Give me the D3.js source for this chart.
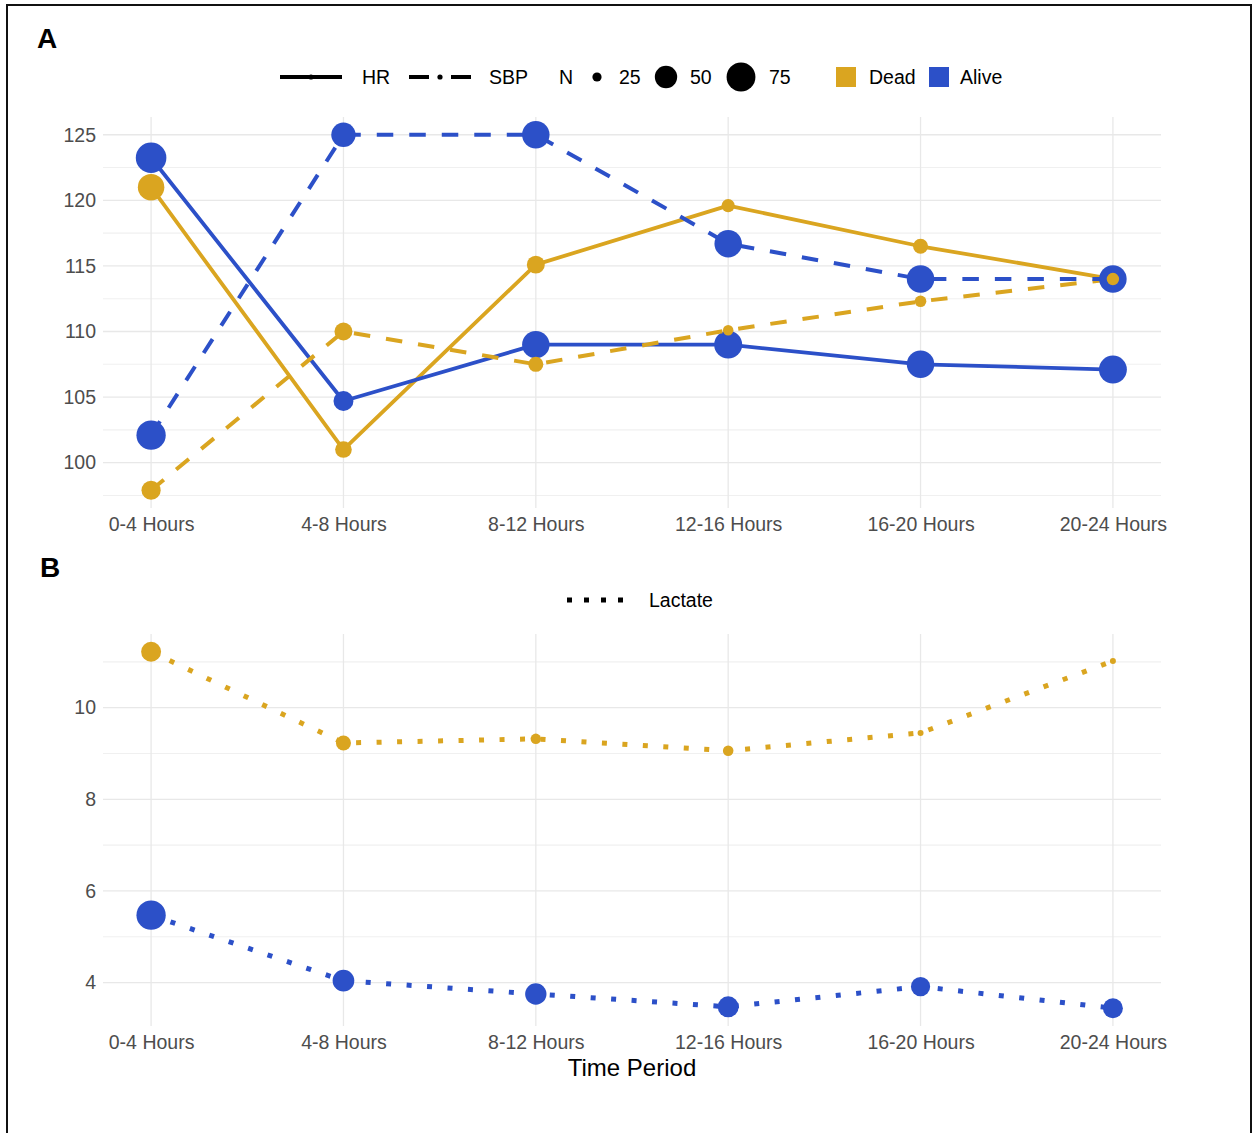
<!DOCTYPE html>
<html>
<head>
<meta charset="utf-8">
<script src="https://cdn.jsdelivr.net/npm/d3@7"></script>
<style>
  body { margin: 0; background: #fff; }
  svg { display: block; }
  text { font-family: "Liberation Sans", Arial, sans-serif; }
</style>
</head>
<body>
<svg id="chart" width="1255" height="1133"></svg>
<script>
// ---- data ----
const periods = ["0-4 Hours", "4-8 Hours", "8-12 Hours", "12-16 Hours", "16-20 Hours", "20-24 Hours"];
const groups = ["Dead", "Alive"];

// mean heart rate / systolic blood pressure per time window
const hrDead   = [121.0, 101.0, 115.1, 119.6, 116.5, 114.0];
const hrAlive  = [123.25, 104.7, 109.0, 109.0, 107.5, 107.1];
const sbpDead  = [97.9, 110.0, 107.5, 110.1, 112.3, 114.0];
const sbpAlive = [102.1, 125.0, 125.0, 116.7, 114.0, 114.0];

// mean lactate per time window
const lacDead  = [11.22, 9.23, 9.32, 9.06, 9.45, 11.02];
const lacAlive = [5.47, 4.04, 3.75, 3.47, 3.91, 3.44];

// number of patients behind each mean
const nHrDead   = [65, 35, 38, 29, 32, 28];
const nHrAlive  = [83, 43, 69, 71, 69, 71];
const nSbpDead  = [41, 38, 32, 26, 27, 28];
const nSbpAlive = [77, 57, 69, 69, 69, 69];
const nLacDead  = [43, 32, 26, 26, 24, 24];
const nLacAlive = [77, 48, 47, 46, 41, 43];

const sizeBreaks = [25, 50, 75];
const ticksA = [100, 105, 110, 115, 120, 125];
const ticksB = [4, 6, 8, 10];

// ---- styling ----
const cDead = "#DAA520", cAlive = "#2C50C8";
const color = d3.scaleOrdinal().domain(groups).range([cDead, cAlive]);
const nNorm = d3.scaleLinear().domain([24, 85]).range([0, 1]).clamp(true);
const rSqrt = d3.scaleSqrt().domain([0, 1]).range([3, 15.5]);
const radius = n => rSqrt(nNorm(n));

const svg = d3.select("#chart");

// outer frame
svg.append("path")
  .attr("d", "M7,1133V5H1251V1133")
  .attr("fill", "none").attr("stroke", "#111").attr("stroke-width", 2);

const x = d3.scalePoint().domain(periods).range([103, 1161]).padding(0.25);

function yScale(values, top, bottom) {
  const [lo, hi] = d3.extent(values);
  const pad = (hi - lo) * 0.05;
  return d3.scaleLinear().domain([lo - pad, hi + pad]).range([bottom, top]);
}

function drawFrame(g, y, ticks, top, bottom) {
  const [d0, d1] = y.domain();
  const step = ticks[1] - ticks[0];
  const minors = [];
  for (let v = ticks[0] - step / 2; v <= ticks[ticks.length - 1] + step / 2 + 1e-9; v += step) {
    if (v >= d0 && v <= d1) minors.push(v);
  }
  g.append("g").selectAll("line").data(minors).join("line")
    .attr("x1", 103).attr("x2", 1161)
    .attr("y1", d => y(d)).attr("y2", d => y(d))
    .attr("stroke", "#f0f0f0").attr("stroke-width", 1.1);
  g.append("g").selectAll("line").data(ticks).join("line")
    .attr("x1", 103).attr("x2", 1161)
    .attr("y1", d => y(d)).attr("y2", d => y(d))
    .attr("stroke", "#e8e8e8").attr("stroke-width", 1.3);
  g.append("g").selectAll("line").data(periods).join("line")
    .attr("x1", d => x(d)).attr("x2", d => x(d))
    .attr("y1", top).attr("y2", bottom)
    .attr("stroke", "#e8e8e8").attr("stroke-width", 1.3);

  const ya = g.append("g").attr("transform", "translate(103,0)")
    .call(d3.axisLeft(y).tickValues(ticks).tickSize(0).tickPadding(7));
  ya.select(".domain").remove();
  ya.selectAll("text").attr("font-size", 19.5).attr("fill", "#4d4d4d")
    .attr("font-family", '"Liberation Sans", Arial, sans-serif');

  const xa = g.append("g").attr("transform", `translate(0,${bottom})`)
    .call(d3.axisBottom(x).tickSize(0).tickPadding(9));
  xa.select(".domain").remove();
  xa.selectAll("text").attr("font-size", 19.5).attr("fill", "#4d4d4d")
    .attr("font-family", '"Liberation Sans", Arial, sans-serif');
}

function drawLine(g, y, vals, col, width, dash) {
  g.append("path").datum(vals)
    .attr("d", d3.line().x((d, i) => x(periods[i])).y(d => y(d)))
    .attr("fill", "none").attr("stroke", col).attr("stroke-width", width)
    .attr("stroke-dasharray", dash).attr("stroke-linejoin", "round");
}

function drawPoints(g, y, vals, ns, col) {
  g.append("g").selectAll("circle")
    .data(vals.map((v, i) => ({ v, n: ns[i], p: periods[i] })))
    .join("circle")
    .attr("cx", d => x(d.p)).attr("cy", d => y(d.v))
    .attr("r", d => radius(d.n)).attr("fill", col);
}

// ---- panel A: HR and SBP ----
const topA = 117, botA = 508;
const yA = yScale([...hrDead, ...hrAlive, ...sbpDead, ...sbpAlive], topA, botA);
const gA = svg.append("g");
drawFrame(gA, yA, ticksA, topA, botA);

const dashed = "16.5,16";
drawLine(gA, yA, hrDead, color("Dead"), 3.8, null);
drawLine(gA, yA, hrAlive, color("Alive"), 3.8, null);
drawPoints(gA, yA, hrAlive, nHrAlive, color("Alive"));
drawPoints(gA, yA, hrDead, nHrDead, color("Dead"));
drawLine(gA, yA, sbpDead, color("Dead"), 4, dashed);
drawLine(gA, yA, sbpAlive, color("Alive"), 4, dashed);
drawPoints(gA, yA, sbpAlive, nSbpAlive, color("Alive"));
drawPoints(gA, yA, sbpDead, nSbpDead, color("Dead"));

svg.append("text").attr("x", 37).attr("y", 48)
  .attr("font-size", 28).attr("font-weight", "bold").attr("fill", "#000").text("A");

// legend for panel A
const lgA = svg.append("g");
const ly = 77;
lgA.append("line").attr("x1", 280).attr("x2", 342).attr("y1", ly).attr("y2", ly)
  .attr("stroke", "#000").attr("stroke-width", 4);
lgA.append("circle").attr("cx", 311).attr("cy", ly).attr("r", 2.6).attr("fill", "#000");
lgA.append("text").attr("x", 362).attr("y", ly).attr("dy", "0.35em").attr("font-size", 19.5).text("HR");

lgA.append("line").attr("x1", 409).attr("x2", 471).attr("y1", ly).attr("y2", ly)
  .attr("stroke", "#000").attr("stroke-width", 4).attr("stroke-dasharray", "20,22");
lgA.append("circle").attr("cx", 440).attr("cy", ly).attr("r", 2.6).attr("fill", "#000");
lgA.append("text").attr("x", 489).attr("y", ly).attr("dy", "0.35em").attr("font-size", 19.5).text("SBP");

lgA.append("text").attr("x", 559).attr("y", ly).attr("dy", "0.35em").attr("font-size", 19.5).text("N");
const sizeKeyX = [597, 666, 741];
const sizeLabX = [619, 690, 769];
sizeBreaks.forEach((b, i) => {
  lgA.append("circle").attr("cx", sizeKeyX[i]).attr("cy", ly).attr("r", radius(b)).attr("fill", "#000");
  lgA.append("text").attr("x", sizeLabX[i]).attr("y", ly).attr("dy", "0.35em").attr("font-size", 19.5).text(b);
});

const colKeyX = [836, 929];
const colLabX = [869, 960];
groups.forEach((gname, i) => {
  lgA.append("rect").attr("x", colKeyX[i]).attr("y", ly - 10).attr("width", 20).attr("height", 20)
    .attr("fill", color(gname));
  lgA.append("text").attr("x", colLabX[i]).attr("y", ly).attr("dy", "0.35em").attr("font-size", 19.5).text(gname);
});

// ---- panel B: lactate ----
const topB = 634, botB = 1026;
const yB = yScale([...lacDead, ...lacAlive], topB, botB);
const gB = svg.append("g");
drawFrame(gB, yB, ticksB, topB, botB);

const dotted = "5,15.5";
drawLine(gB, yB, lacDead, color("Dead"), 5, dotted);
drawLine(gB, yB, lacAlive, color("Alive"), 5, dotted);
drawPoints(gB, yB, lacAlive, nLacAlive, color("Alive"));
drawPoints(gB, yB, lacDead, nLacDead, color("Dead"));

svg.append("text").attr("x", 40).attr("y", 577)
  .attr("font-size", 28).attr("font-weight", "bold").attr("fill", "#000").text("B");

const lgB = svg.append("g");
lgB.append("line").attr("x1", 567).attr("x2", 626).attr("y1", 600).attr("y2", 600)
  .attr("stroke", "#000").attr("stroke-width", 5).attr("stroke-dasharray", "5,12");
lgB.append("text").attr("x", 649).attr("y", 600).attr("dy", "0.35em").attr("font-size", 19.5).text("Lactate");

// shared x-axis title
svg.append("text").attr("x", 632).attr("y", 1076).attr("text-anchor", "middle")
  .attr("font-size", 24).attr("fill", "#000").text("Time Period");
</script>
</body>
</html>
